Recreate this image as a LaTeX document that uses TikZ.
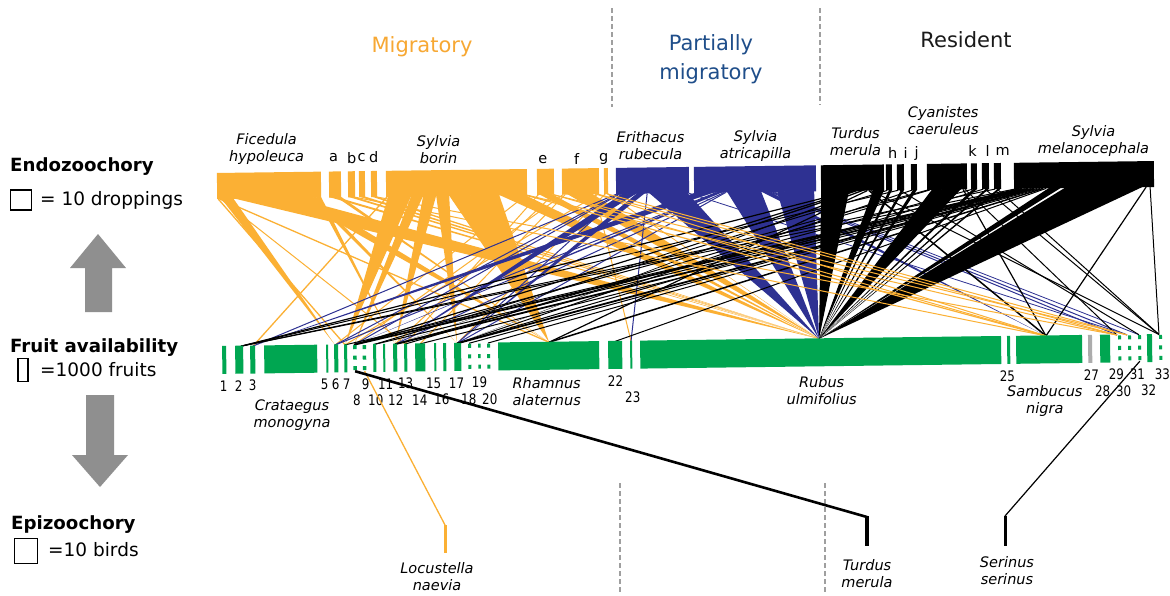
\documentclass[tikz,border=0pt]{standalone}
\usepackage{fontspec}
\setmainfont{DejaVu Sans}
\newfontfamily\numfont[FakeStretch=0.82]{DejaVu Sans}
\definecolor{orng}{HTML}{FBB034}
\definecolor{blu}{HTML}{2E3192}
\definecolor{grn}{HTML}{00A651}
\definecolor{hdrorng}{HTML}{F7A833}
\definecolor{hdrblue}{HTML}{1F4E8A}
\definecolor{resblack}{HTML}{1A1A1A}
\definecolor{arrgrey}{HTML}{8F8F8F}
\newcommand\Wg[4]{\fill[#1] (#2,192.5) -- (#3,192.5) -- (#4,340.5) -- cycle;}
\newcommand\Ln[4]{\draw[#1,line width=#4pt] (#2,193) -- (#3,340.5);}
\newcommand\Bb[3]{\fill[#1] (#2,167) rectangle (#3,193);}
\newcommand\Gb[2]{\fill[grn] (#1,340) rectangle (#2,368);}
\newcommand\Gd[2]{\fill[grn] (#1,341) rectangle (#2,345) (#1,351.5) rectangle (#2,355.5) (#1,362) rectangle (#2,366);}
\begin{document}
\begin{tikzpicture}[x=1pt,y=-1pt,
  lbl/.style={font=\fontsize{14.5}{17}\selectfont\itshape,align=center,inner sep=0pt},
  ltr/.style={font=\fontsize{14.5}{17}\selectfont,inner sep=0pt},
  num/.style={font=\numfont\fontsize{14.5}{15}\selectfont,inner sep=0pt},
  hdr/.style={font=\fontsize{21}{29}\selectfont,align=center,inner sep=0pt},
  leg/.style={font=\fontsize{18.5}{20}\selectfont,anchor=west,inner sep=0pt},
  legb/.style={font=\fontsize{18.2}{20}\selectfont\bfseries,anchor=west,inner sep=0pt},
  sepline/.style={draw=gray!75,line width=1.2pt,dash pattern=on 5pt off 3pt},
  keybox/.style={draw=black,line width=1.5pt,inner sep=0pt},
  bigarrow/.style={fill=arrgrey}]
\useasboundingbox (0,0) rectangle (1170,595);
\fill[white] (0,0) rectangle (1170,595);

% headers
\node[hdr,text=hdrorng] (hMig) at (422,47) {Migratory};
\node[hdr,text=hdrblue] (hPar) at (711,59.5) {Partially\\migratory};
\node[hdr,text=resblack] (hRes) at (966,40) {Resident};

% separators
\coordinate (s1a) at (612,8); \coordinate (s1b) at (612,107);
\coordinate (s2a) at (820,8); \coordinate (s2b) at (820,105);
\coordinate (s3a) at (620,483); \coordinate (s3b) at (620,592);
\coordinate (s4a) at (825,483); \coordinate (s4b) at (825,592);
\draw[sepline] (s1a) -- (s1b);
\draw[sepline] (s2a) -- (s2b);
\draw[sepline] (s3a) -- (s3b);
\draw[sepline] (s4a) -- (s4b);

% legend
\node[legb] (lEndo) at (10,167) {Endozoochory};
\node[keybox,minimum width=21pt,minimum height=20pt] (kEndo) at (21,200) {};
\node[leg] (tEndo) at (40,200) {= 10 droppings};
\fill[bigarrow] (98,234) -- (126,268) -- (112,268) -- (112,312) -- (85,312) -- (85,268) -- (70,268) -- cycle;
\node[legb] (lFruit) at (10,348) {Fruit availability};
\node[keybox,minimum width=10pt,minimum height=23pt] (kFruit) at (23,370) {};
\node[leg] (tFruit) at (40,370) {=1000 fruits};
\fill[bigarrow] (86,395) -- (114,395) -- (114,455) -- (128,455) -- (100,487) -- (72,455) -- (86,455) -- cycle;
\node[legb] (lEpi) at (11,525) {Epizoochory};
\node[keybox,minimum width=23pt,minimum height=25pt] (kEpi) at (26,551) {};
\node[leg] (tEpi) at (48,550) {=10 birds};

\begin{scope}[rotate around={0.73:(686,260)}]
% ---------- orange links
\Ln{orng}{219}{344}{1.3}
\Ln{orng}{220.5}{548}{1.3}
\Ln{orng}{221.5}{404}{1}
\Wg{orng}{222}{234}{334}
\Wg{orng}{234}{294}{818}
\Wg{orng}{294}{311}{548}
\Wg{orng}{311}{317}{456}
\Wg{orng}{317}{322}{394}
\Wg{orng}{330}{337}{818}
\Wg{orng}{337}{342}{548}
\Wg{orng}{349}{355}{818}
\Wg{orng}{360}{366}{818}
\Wg{orng}{372}{377}{818}
\Ln{orng}{388}{252}{1.3}
\Wg{orng}{389}{412}{344}
\Wg{orng}{412}{424}{353}
\Wg{orng}{424}{437}{394}
\Wg{orng}{437}{450}{456}
\Wg{orng}{450}{500}{548}
\Wg{orng}{500}{525}{818}
\Ln{orng}{527}{334}{1}
\Ln{orng}{539}{404}{1}
\Wg{orng}{540}{553}{818}
\Ln{orng}{554}{394}{1}
\Ln{orng}{564}{353}{1}
\Ln{orng}{566}{419}{1}
\Wg{orng}{568}{593}{818}
\Ln{orng}{596}{630}{1}
\Ln{orng}{599}{344}{1}
\Ln{orng}{606}{456}{1}
\Wg{orng}{607}{609}{818}
% ---------- blue links
\Ln{blu}{618}{252}{1}
\Ln{blu}{619.5}{334}{1}
\Ln{blu}{621}{353}{1}
\Ln{blu}{622.5}{456}{1}
\Wg{blu}{624}{638}{394}
\Wg{blu}{638}{646}{456}
\Ln{blu}{648}{630}{1}
\Wg{blu}{650}{688}{818}
\Ln{blu}{689}{1126}{0.8}
\Wg{blu}{697}{716}{252}
\Ln{blu}{717}{334}{1}
\Wg{blu}{718}{724}{353}
\Ln{blu}{725}{394}{1}
\Ln{blu}{726.5}{456}{1}
\Wg{blu}{728}{762}{818}
\Wg{blu}{762}{770}{1045}
\Ln{blu}{771}{1116}{1}
\Ln{blu}{773}{1126}{1}
\Ln{blu}{775}{1138}{0.8}
\Wg{blu}{778}{815}{818}
% ---------- black links
\Wg{black}{822}{850}{818}
\Ln{black}{852}{240}{1.2}
\Ln{black}{854}{353}{1.2}
\Wg{black}{856}{861}{394}
\Wg{black}{862}{866}{456}
\Ln{black}{868}{548}{1.2}
\Ln{black}{870}{1045}{1.5}
\Ln{black}{872}{1158}{1}
\Wg{black}{874}{885}{818}
\Ln{black}{888}{373}{1}
\Wg{black}{890}{893}{818}
\Ln{black}{899}{240}{1}
\Ln{black}{901}{1138}{1}
\Wg{black}{902}{905}{818}
\Ln{black}{913}{456}{1}
\Wg{black}{914}{918}{818}
\Ln{black}{929}{353}{1}
\Ln{black}{931}{404}{1}
\Wg{black}{933}{962}{818}
\Ln{black}{964}{1045}{1.2}
\Ln{black}{966}{1116}{1}
\Ln{black}{973}{394}{1}
\Wg{black}{974}{978}{818}
\Ln{black}{984}{456}{1}
\Ln{black}{986}{1158}{1}
\Wg{black}{987}{990}{818}
\Ln{black}{996}{240}{1}
\Ln{black}{998}{1158}{1}
\Wg{black}{999}{1002}{818}
\Ln{black}{1017}{240}{1}
\Ln{black}{1020}{344}{1}
\Ln{black}{1023}{353}{1.8}
\Ln{black}{1026}{373}{1}
\Ln{black}{1029}{394}{1.8}
\Ln{black}{1032}{419}{1}
\Ln{black}{1035}{456}{1.8}
\Ln{black}{1038}{468}{1}
\Ln{black}{1041}{487}{1}
\Ln{black}{1044}{548}{1.5}
\Ln{black}{1047}{614}{1}
\Wg{black}{1050}{1062}{818}
\Wg{black}{1066}{1144}{818}
\Ln{black}{1147}{1045}{1.2}
\Ln{black}{1151}{1158}{1}
% ---------- orange lines on top
\Ln{orng}{377.5}{1116}{1}
\Ln{orng}{356}{1045}{1}
\Ln{orng}{526}{1045}{1.2}
\Ln{orng}{527.5}{1116}{1}
\Ln{orng}{554}{1126}{1}
\Ln{orng}{554.5}{1045}{1}
\Ln{orng}{597}{1045}{1}
\Ln{orng}{598.5}{1116}{1}
\Ln{orng}{608.5}{1126}{1}
% ---------- bird bars
\Bb{orng}{218}{322} \Bb{orng}{330}{342} \Bb{orng}{349}{356} \Bb{orng}{360}{366}
\Bb{orng}{372}{378} \Bb{orng}{387}{528} \Bb{orng}{538}{555} \Bb{orng}{563}{600}
\Bb{orng}{605}{609}
\Bb{blu}{617}{690} \Bb{blu}{695}{817}
\Bb{black}{822}{885} \Bb{black}{887}{893} \Bb{black}{898}{905} \Bb{black}{912}{918}
\Bb{black}{928}{968} \Bb{black}{972}{978} \Bb{black}{983}{990} \Bb{black}{995}{1002}
\Bb{black}{1015}{1155}
% ---------- fruit bars
\Gb{221}{225} \Gb{234}{242} \Gb{249}{254} \Gb{263}{316} \Gb{325}{327}
\Gb{333}{337} \Gb{343}{346} \Gd{352}{355.5} \Gd{361.5}{365} \Gb{372}{375}
\Gb{382}{384} \Gb{392}{396} \Gb{403}{406} \Gb{414}{424} \Gb{433}{435}
\Gb{442}{445} \Gb{453}{460} \Gd{467}{470} \Gd{477}{479.5} \Gd{486}{489}
\Gb{497}{598} \Gb{607}{621} \Gb{629}{631} \Gb{639}{1000} \Gb{1006}{1009}
\Gb{1015}{1081}
\fill[gray!65] (1087,340) rectangle (1091,368);
\Gb{1099}{1109} \Gd{1117}{1120} \Gd{1127}{1130} \Gd{1137}{1140}
\Gb{1146}{1151} \Gd{1158}{1161}
% ---------- bird labels
\node[lbl] (bFic) at (268,144) {Ficedula\\hypoleuca};
\node[ltr] (ba) at (335,153.5) {a};
\node[ltr] (bb) at (353,153.5) {b};
\node[ltr] (bc) at (363,153.5) {c};
\node[ltr] (bd) at (375,153.5) {d};
\node[lbl] (bBor) at (440,146) {Sylvia\\borin};
\node[ltr] (be) at (544,158) {e};
\node[ltr] (bf) at (578,158) {f};
\node[ltr] (bg) at (605,158) {g};
\node[lbl] (bEri) at (652,145.5) {Erithacus\\rubecula};
\node[lbl] (bAtr) at (757,147) {Sylvia\\atricapilla};
\node[lbl] (bTur) at (857,144) {Turdus\\merula};
\node[ltr] (bh) at (894,156) {h};
\node[ltr] (bi) at (907,156) {i};
\node[ltr] (bj) at (918,156) {j};
\node[lbl] (bCya) at (945,124) {Cyanistes\\caeruleus};
\node[ltr] (bk) at (974,155) {k};
\node[ltr] (bl) at (989,155) {l};
\node[ltr] (bm) at (1004,155) {m};
\node[lbl] (bMel) at (1095,146) {Sylvia\\melanocephala};
% ---------- fruit labels
\node[num] (n1) at (222,380) {1};
\node[num] (n2) at (237,380) {2};
\node[num] (n3) at (251,380) {3};
\node[num] (n5) at (323,380) {5};
\node[num] (n6) at (334,380) {6};
\node[num] (n7) at (345,380) {7};
\node[num] (n9) at (364,380) {9};
\node[num] (n11) at (384,380) {11};
\node[num] (n13) at (404,380) {13};
\node[num] (n15) at (432,380) {15};
\node[num] (n17) at (455,380) {17};
\node[num] (n19) at (478,380) {19};
\node[num] (n22) at (614,380) {22};
\node[num] (n25) at (1006,380) {25};
\node[num] (n27) at (1090,380) {27};
\node[num] (n29) at (1115,380) {29};
\node[num] (n31) at (1136,380) {31};
\node[num] (n33) at (1161,380) {33};
\node[num] (n8) at (355,396.5) {8};
\node[num] (n10) at (374,396.5) {10};
\node[num] (n12) at (394,396.5) {12};
\node[num] (n14) at (418,396.5) {14};
\node[num] (n16) at (440,396.5) {16};
\node[num] (n18) at (467,396.5) {18};
\node[num] (n20) at (488,396.5) {20};
\node[num] (n23) at (631,396.5) {23};
\node[num] (n28) at (1101,396.5) {28};
\node[num] (n30) at (1122,396.5) {30};
\node[num] (n32) at (1147,396.5) {32};
\node[lbl] (fCra) at (290,410.5) {Crataegus\\monogyna};
\node[lbl] (fRha) at (545,390) {Rhamnus\\alaternus};
\node[lbl] (fRub) at (820,392) {Rubus\\ulmifolius};
\node[lbl] (fSam) at (1043,405.5) {Sambucus\\nigra};
% anchors for epizoochory links
\coordinate (f8b) at (353.7,367);
\coordinate (f9b) at (363.2,367);
\coordinate (f31b) at (1138.5,367);
\end{scope}

% ---------- epizoochory
\coordinate (locT) at (445,525); \coordinate (locB) at (445,553);
\coordinate (turT) at (867,517); \coordinate (turB) at (867,546);
\coordinate (serT) at (1005,516); \coordinate (serB) at (1005,546);
\draw[orng,line width=1.3pt] (f9b) -- (locT);
\draw[orng,line width=3pt] (locT) -- (locB);
\draw[black,line width=2.6pt] (f8b) -- (turT);
\draw[black,line width=3.2pt] ([yshift=1pt]turT) -- (turB);
\draw[black,line width=1.2pt] (f31b) -- (serT);
\draw[black,line width=3pt] (serT) -- (serB);
\node[lbl] (eLoc) at (437,577) {Locustella\\naevia};
\node[lbl] (eTur) at (867,574) {Turdus\\merula};
\node[lbl] (eSer) at (1007,571) {Serinus\\serinus};
\end{tikzpicture}
\end{document}
